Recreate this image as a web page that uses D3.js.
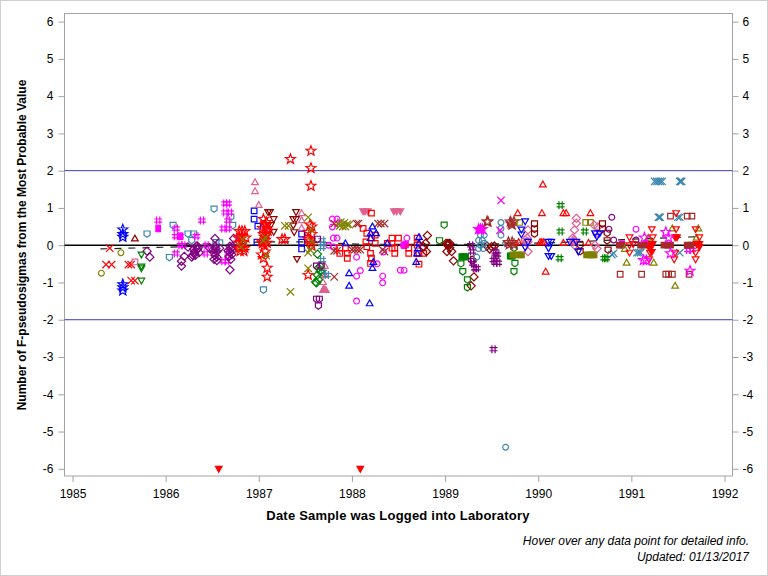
<!DOCTYPE html>
<html><head><meta charset="utf-8"><script src="https://cdn.jsdelivr.net/npm/d3@7"></script>
<style>html,body{margin:0;padding:0;background:#fff}svg{display:block}text{font-family:"Liberation Sans",Arial,sans-serif;fill:#000}</style>
</head><body><svg id="c" width="768" height="576"></svg>
<script>
const xTickValues=[1985,1986,1987,1988,1989,1990,1991,1992];
const yTickValues=[-6,-5,-4,-3,-2,-1,0,1,2,3,4,5,6];
const refLines=[2,-2];
const xTitle="Date Sample was Logged into Laboratory";
const yTitle="Number of F-pseudosigmas from the Most Probable Value";
const notes=["Hover over any data point for detailed info.","Updated: 01/13/2017"];
const trend=[[1985.3,-.1],[1985.9,-.06],[1986.6,-.01],[1987,.09],[1987.5,.09],[1988.05,.03],[1988.7,.02],[1989.3,.02],[1990.2,.07],[1990.9,.15],[1991.5,.21],[1991.73,.23]];

const blueStar=[[1985.54,.42],[1985.54,.3],[1985.54,.22],[1985.54,-1.05],[1985.54,-1.13],[1985.54,-1.22]];
const redX=[[1985.4,-.08],[1985.36,-.52],[1985.42,-.52],[1985.6,-.52],[1985.63,-.52],[1985.63,-.95],[1985.67,-.95]];
const oliveCircle=[[1985.52,-.2],[1985.31,-.75]];
const darkRedTriangle=[[1985.67,.18]];
const pinkSquare=[[1985.67,-.45]];
const greenInvTri=[[1985.74,-.25],[1985.74,-.57],[1985.74,-.62],[1985.74,-.95]];
const steelShield=[[1985.8,.3],[1986.08,.53],[1986.04,-.33],[1986.24,.3],[1986.3,.3],[1986.28,.13],[1986.52,.97],[1986.7,.75],[1986.72,.53],[1986.54,.07],[1986.58,.06],[1987.05,-1.2]];
const magentaHash=[[1985.92,.66],[1986.11,.45],[1986.11,.24],[1986.15,.24],[1986.16,0],[1986.19,0],[1986.11,-.22],[1986.33,.24],[1986.39,.66],[1986.43,-.22],[1986.44,0],[1986.62,.45],[1986.67,.45],[1986.64,1.12],[1986.67,1.12],[1986.64,.88],[1986.69,.88],[1986.67,.66],[1986.62,-.43],[1986.66,-.43],[1986.67,-.22],[1991.61,-.13],[1991.65,-.13]];
const magentaBlob=[[1985.92,.45],[1986.16,.24],[1988.56,0],[1988.58,.02],[1990.9,.03],[1991.16,.03]];
const magentaStarFilled=[[1989.36,.43],[1989.38,.43],[1989.4,.43]];
const purpleDiamond=[[1985.8,-.16],[1985.83,-.32],[1986.17,-.43],[1986.17,-.56],[1986.2,-.3],[1986.24,-.05],[1986.31,-.17],[1986.34,-.12],[1986.29,-.27],[1986.32,-.27],[1986.36,-.2],[1986.3,-.1],[1986.33,-.03],[1986.35,-.07],[1986.31,-.22],[1986.28,-.32],[1986.53,.18],[1986.53,-.03],[1986.55,-.17],[1986.53,-.27],[1986.55,-.41],[1986.52,-.38],[1986.51,-.12],[1986.54,-.09],[1986.52,-.2],[1986.55,-.32],[1986.69,-.03],[1986.72,-.03],[1986.67,-.15],[1986.71,-.25],[1986.7,-.38],[1986.69,-.66],[1986.73,.18],[1986.47,-.07],[1986.58,-.08],[1986.68,-.3],[1986.34,-.02],[1986.7,-.1],[1986.72,-.12],[1986.69,-.2]];
const redStar=[[1986.79,.38],[1986.82,.38],[1986.85,.38],[1986.78,.2],[1986.82,.2],[1986.86,.2],[1986.79,.07],[1986.83,.07],[1986.79,-.07],[1986.82,-.07],[1986.85,-.07],[1986.8,-.16],[1986.84,-.16],[1987.09,-.61],[1987.09,-.85],[1987.05,-.35],[1987.07,-.17],[1987.04,.05],[1987.07,.14],[1987.05,.3],[1987.1,.38],[1987.07,.55],[1987.05,.7],[1987.08,.62],[1987.03,-.25],[1987.06,.22],[1987.09,.45],[1987.03,.1],[1987.06,0],[1987.08,.3],[1987.04,.46],[1987.09,.06],[1987.25,.16],[1987.28,.16],[1987.56,2.53],[1987.56,2.07],[1987.56,1.59],[1987.34,2.31],[1987.53,-.8],[1987.55,.55],[1987.57,.5],[1987.53,.35],[1987.57,.3],[1987.55,.12],[1987.53,.16],[1987.56,.05],[1987.57,-.02]];
const darkRedInvTri=[[1987.12,.89],[1987.1,.89],[1987.16,.7],[1987.1,.54],[1987.16,.36],[1987.13,.54],[1987.4,.89],[1987.37,.7],[1987.4,.7],[1987.37,.53],[1987.38,.35],[1987.41,-.37]];
const oliveX=[[1987.07,.2],[1986.83,.14],[1987.08,-.28],[1987.28,.52],[1987.32,.52],[1987.34,-1.25],[1987.53,.75],[1987.56,.42],[1987.53,-.2],[1987.55,-.12],[1987.53,-.62],[1987.57,.1],[1987.85,.58],[1987.88,.62],[1987.9,.5],[1987.92,.6],[1987.95,.56],[1987.93,.5],[1987.97,.55],[1987.87,.52],[1986.81,-.05],[1987.05,.12]];
const blueSquare=[[1986.95,.92],[1986.95,.7],[1986.99,.51],[1986.98,.08],[1987.46,.3],[1987.46,.08],[1987.46,-.1]];
const pinkTriangle=[[1986.96,1.69],[1986.96,1.45],[1987,1.08],[1987.46,.86],[1987.46,.67],[1987.46,.46],[1987.71,-.56],[1987.71,-.8],[1987.69,-.99]];
const pinkFilledTri=[[1987.69,-1.2],[1987.72,-1.2],[1987.7,-1.17]];
const magentaCircle=[[1987.79,.7],[1987.84,.7],[1987.79,.49],[1987.8,.19],[1987.84,.19],[1987.75,0],[1987.8,-.05],[1988.05,-.32],[1988.09,-.68],[1988.05,-.83],[1988.33,-.83],[1988.33,-1.01],[1988.27,-.5],[1988.05,-1.5],[1988.34,-.18],[1988.52,-.67],[1988.56,-.67],[1988.59,.19],[1991.05,.43],[1988.55,0]];
const brownX=[[1988.05,.58],[1988.07,.58],[1988.28,.58],[1988.31,.58],[1988.35,.58],[1987.81,.58],[1987.81,-.15],[1987.84,-.15],[1988,-.12],[1988.03,-.12],[1988.06,-.12],[1988.09,-.12],[1988.33,-.12],[1988.35,-.17],[1987.81,-.85]];
const pinkInvFilled=[[1988.12,.91],[1988.14,.91],[1988.17,.91],[1988.45,.91],[1988.48,.91],[1988.52,.91]];
const redSquare=[[1988.21,.86],[1988.12,.45],[1988.16,.32],[1988.21,.19],[1988.25,.27],[1988.15,.09],[1988.25,.05],[1988.16,-.04],[1987.87,-.08],[1987.93,-.08],[1987.87,-.22],[1987.95,-.22],[1987.95,-.35],[1988.2,-.22],[1988.21,-.35],[1988.2,-.49],[1988.43,.19],[1988.5,.19],[1988.38,.05],[1988.43,.05],[1988.43,-.08],[1988.46,-.08],[1988.46,-.22],[1988.61,-.08],[1988.61,-.22],[1988.7,.19],[1988.7,0],[1988.72,-.22],[1988.77,-.22],[1988.7,-.22],[1988.72,-.51]];
const blueTriangle=[[1987.93,.05],[1988.22,.5],[1988.2,.32],[1988.26,.32],[1988.2,.19],[1988.23,-.45],[1988.22,-.61],[1987.97,-.75],[1987.97,-1.09],[1988.19,-1.56],[1988.38,.05],[1988.72,.22],[1988.72,.05],[1988.71,-.08],[1988.7,-.22],[1988.69,-.45]];
const steelHash=[[1987.68,.13],[1987.68,.03],[1987.68,-.05],[1987.68,-.4],[1987.69,-.72],[1987.73,-.8]];
const greenDiamond=[[1987.63,-.24],[1987.64,-.61],[1987.63,-.8],[1987.62,-1.01],[1987.61,-.99],[1987.66,-.57],[1987.64,-.92],[1987.66,-.7]];
const purpleShield=[[1987.63,.16],[1987.62,-.56],[1987.67,-.56],[1987.65,-1.45],[1987.62,-1.45],[1987.64,-1.63]];
const darkRedDiamond=[[1988.81,.26],[1988.79,.05],[1988.77,-.04],[1988.8,-.17],[1989.01,.05],[1989.03,.05],[1989.05,.05],[1989.02,.02],[1989.04,.02],[1989.02,-.17],[1989.07,-.17],[1989.05,-.07],[1989.09,-.42],[1989.31,-.85],[1989.28,-1.09],[1989.29,-.4],[1989.45,-.02],[1989.48,-.1],[1989.5,-.04],[1989.53,-.02]];
const greenShield=[[1988.99,.54],[1988.94,.12],[1989.17,-.5],[1989.19,-.71],[1989.24,-.93],[1989.24,-1.14],[1989.74,-.08],[1989.75,-.49],[1989.74,-.71]];
const greenFilled=[[1989.18,-.31],[1989.2,-.31],[1989.22,-.31],[1989.7,-.29],[1989.72,-.29]];
const purpleHash=[[1989.28,0],[1989.29,-.17],[1989.29,-.4],[1989.3,-.49],[1989.32,-.62],[1989.34,-.62],[1989.54,-.17],[1989.54,-.31],[1989.54,-.47],[1989.57,-.47],[1989.52,-2.79],[1989.52,-.4],[1989.56,-.25]];
const steelCircle=[[1989.38,.27],[1989.42,.27],[1989.36,.13],[1989.4,.13],[1989.38,0],[1989.41,-.09],[1989.36,-.09],[1989.34,-.32],[1989.6,.61],[1989.6,.45],[1989.6,.27],[1989.42,.05],[1989.65,-5.42],[1989.65,.05]];
const brownStar=[[1989.45,.63],[1989.46,.63],[1989.7,.63],[1989.74,.63],[1989.72,.55],[1989.68,.08],[1989.72,.08],[1989.74,.02],[1989.71,.58],[1989.69,.02]];
const steelX=[[1991.29,1.71],[1991.33,1.71],[1991.25,1.71],[1991.27,1.71],[1991.31,1.71],[1991.52,1.71],[1991.54,1.71],[1991.53,1.71],[1991.29,.75],[1991.31,.75],[1991.3,.75],[1991.5,.75],[1991.52,.75],[1990.81,-.22],[1990.79,-.25],[1991.06,-.2],[1991.1,-.2],[1991.08,-.2],[1991.52,-.2]];
const redTriangle=[[1990.05,1.63],[1989.78,.86],[1990.04,.86],[1990.27,.86],[1990.3,.86],[1990.56,.86],[1990.08,-.71],[1989.79,.08],[1990.04,.08],[1990.27,.06],[1990.54,.06],[1990.02,.08],[1990.06,.08]];
const greenHash=[[1990.24,1.07],[1990.24,.37],[1990.5,.37],[1990.23,-.35],[1990.71,-.35],[1990.73,-.35]];
const magentaX=[[1989.6,1.2],[1989.59,.4]];
const oliveSquare=[[1989.8,.61],[1990.51,.61],[1990.56,.61]];
const oliveFilled=[[1989.73,-.26],[1989.79,-.26],[1989.82,-.26],[1990.52,-.26],[1990.55,-.26],[1990.58,-.26],[1990.6,-.26]];
const darkRedSquare=[[1989.96,.57],[1989.96,.43],[1989.96,.3],[1990.45,0],[1990.45,-.17],[1990.69,.57],[1990.69,.43],[1990.74,.32],[1990.74,.12],[1990.75,-.13]];
const blueInvTri=[[1989.86,.64],[1989.82,.42],[1989.82,.29],[1989.89,.09],[1989.86,-.06],[1990.11,.09],[1990.14,.09],[1990.11,-.08],[1990.11,-.29],[1990.14,-.29],[1990.34,.09],[1990.41,.09],[1990.43,-.17],[1990.61,.32],[1990.66,.32],[1990.63,.23]];
const pinkDiamond=[[1989.89,.41],[1989.88,.19],[1989.89,-.17],[1989.86,.14],[1989.89,.09],[1990.41,.72],[1990.41,.59],[1990.39,.41],[1990.37,.19],[1990.38,.09],[1990.39,0],[1990.6,.54],[1990.64,.49],[1990.63,.32],[1990.61,0],[1990.63,-.09],[1990.38,.14],[1989.87,.08]];
const purpleCircle=[[1990.79,.75],[1990.76,.43],[1990.81,.14],[1991.05,.14]];
const brownSquare=[[1991.42,.78],[1991.6,.78],[1991.65,.78],[1990.88,-.78],[1991.11,-.78],[1991.37,-.78],[1991.4,-.78],[1991.44,-.78],[1991.62,-.78]];
const brownFilled=[[1990.87,0],[1990.9,0],[1991.1,0],[1991.14,0],[1991.35,0],[1991.39,0],[1991.42,0],[1991.6,0],[1991.64,0]];
const oliveTriangle=[[1991.44,.45],[1991.72,.45],[1991.7,.2],[1991.18,.2],[1990.95,-.47],[1991.24,-.47],[1991.47,-1.09],[1990.93,-.1]];
const redInvTri=[[1991.22,.43],[1991.48,.86],[1991.48,.43],[1991.69,.43],[1990.98,.21],[1991.23,.21],[1991.73,.21],[1990.98,-.2],[1991.2,-.2],[1991.47,-.2],[1991.69,-.2],[1991.19,-.38],[1991.46,-.38],[1991.69,-.38],[1991.02,.03],[1990.98,0]];
const redFilledInv=[[1986.57,-6],[1988.09,-6],[1991.47,.21],[1991.49,.21],[1991.2,.03],[1991.23,.03],[1991.73,.03],[1991.7,.03],[1991.2,-.1],[1991.22,-.18],[1991.73,-.05]];
const magentaStar=[[1991.14,.2],[1991.37,.35],[1991.4,.2],[1991.13,-.4],[1991.42,-.22],[1991.63,-.69],[1991.16,-.41]];

const styles=[
["steelShield",steelShield,"shield","#3d87ae"],["magentaHash",magentaHash,"hash","#ff00ff"],["magentaBlob",magentaBlob,"blob","#ff00ff"],
["purpleDiamond",purpleDiamond,"diamond","#800080"],["oliveCircle",oliveCircle,"circle","#808000"],["blueSquare",blueSquare,"square","#0000ff"],
["pinkTriangle",pinkTriangle,"triangle","#e0608f"],["pinkFilledTri",pinkFilledTri,"triangleF","#e0608f"],["darkRedInvTri",darkRedInvTri,"invTri","#8b0000"],
["redStar",redStar,"star","#ff0000"],["oliveX",oliveX,"x","#808000"],["blueStar",blueStar,"star","#0000ff"],["redX",redX,"x","#ff0000"],
["darkRedTriangle",darkRedTriangle,"triangle","#8b0000"],["pinkSquare",pinkSquare,"square","#e0608f"],["greenInvTri",greenInvTri,"invTri","#008000"],
["magentaCircle",magentaCircle,"circle","#ff00ff"],["brownX",brownX,"x","#a52a2a"],["pinkInvFilled",pinkInvFilled,"invTriF","#e0608f"],
["redSquare",redSquare,"square","#ff0000"],["blueTriangle",blueTriangle,"triangle","#0000ff"],["steelHash",steelHash,"hash","#3d87ae"],
["greenDiamond",greenDiamond,"diamond","#008000"],["purpleShield",purpleShield,"shield","#800080"],["darkRedDiamond",darkRedDiamond,"diamond","#8b0000"],
["greenShield",greenShield,"shield","#008000"],["greenFilled",greenFilled,"squareF","#008000"],["purpleHash",purpleHash,"hash","#800080"],
["steelCircle",steelCircle,"circle","#3d87ae"],["magentaStarFilled",magentaStarFilled,"starF","#ff00ff"],["brownStar",brownStar,"star","#a52a2a"],["steelX",steelX,"x","#3d87ae"],["redTriangle",redTriangle,"triangle","#ff0000"],
["greenHash",greenHash,"hash","#008000"],["magentaX",magentaX,"x","#ff00ff"],["oliveSquare",oliveSquare,"square","#808000"],["oliveFilled",oliveFilled,"squareF","#808000"],
["pinkDiamond",pinkDiamond,"diamond","#e0608f"],["darkRedSquare",darkRedSquare,"shield","#8b0000"],["blueInvTri",blueInvTri,"invTri","#0000ff"],
["purpleCircle",purpleCircle,"circle","#800080"],["brownSquare",brownSquare,"square","#a52a2a"],["brownFilled",brownFilled,"squareF","#a52a2a"],
["oliveTriangle",oliveTriangle,"triangle","#808000"],["redInvTri",redInvTri,"invTri","#ff0000"],["redFilledInv",redFilledInv,"invTriF","#ff0000"],["magentaStar",magentaStar,"star","#ff00ff"]
];

const frame={l:64.5,r:732.5,t:13.5,b:476};
const x=d3.scaleLinear().domain([1985,1992]).range([72.5,724.5]);
const y=d3.scaleLinear().domain([-6,6]).range([468.8,21.6]);
const svg=d3.select("#c");
svg.append("rect").attr("x",.5).attr("y",.5).attr("width",767).attr("height",575).attr("fill","#fff").attr("stroke","#cfcfcf");
svg.append("rect").attr("x",frame.l).attr("y",frame.t).attr("width",frame.r-frame.l).attr("height",frame.b-frame.t).attr("fill","#fff").attr("stroke","#a3a3a3");

function styleAxis(g){g.select(".domain").remove();g.selectAll("line").attr("stroke","#a3a3a3");g.selectAll("text").style("font-size","12px").attr("fill","#000");}
svg.append("g").attr("transform",`translate(0,${frame.b})`).call(d3.axisBottom(x).tickValues(xTickValues).tickFormat(d3.format("d")).tickSize(6).tickPadding(7)).call(styleAxis);
svg.append("g").attr("transform",`translate(${frame.l},0)`).call(d3.axisLeft(y).tickValues(yTickValues).tickFormat(d=>d).tickSize(6).tickPadding(5)).call(styleAxis);
svg.append("g").attr("transform",`translate(${frame.r},0)`).call(d3.axisRight(y).tickValues(yTickValues).tickFormat(d=>d).tickSize(6).tickPadding(4)).call(styleAxis);

const plot=svg.append("g");
refLines.forEach(v=>plot.append("line").attr("x1",frame.l).attr("x2",frame.r).attr("y1",y(v)).attr("y2",y(v)).attr("stroke","#3a3ac8").attr("stroke-width",1));
plot.append("line").attr("x1",frame.l).attr("x2",frame.r).attr("y1",y(0)).attr("y2",y(0)).attr("stroke","#000").attr("stroke-width",1.5);
plot.append("path").datum(trend).attr("fill","none").attr("stroke","#222").attr("stroke-width",1.2).attr("stroke-dasharray","7 7").attr("d",d3.line().x(d=>x(d[0])).y(d=>y(d[1])));

const r=3;
function poly(c,pts){pts.forEach((p,i)=>i?c.lineTo(p[0],p[1]):c.moveTo(p[0],p[1]));c.closePath();}
function starPts(){const R=5.2,q=2.2,p=[];for(let i=0;i<10;i++){const t=-Math.PI/2+i*Math.PI/5,m=i%2?q:R;p.push([m*Math.cos(t),m*Math.sin(t)]);}return p;}
const shapes={
 circle:{draw(c){c.moveTo(2.9,0);c.arc(0,0,2.9,0,2*Math.PI);}},
 square:{draw(c){c.rect(-2.8,-2.8,5.6,5.6);}},
 squareF:{draw(c){c.rect(-2.8,-2.8,5.6,5.6);}},
 blob:{draw(c){c.rect(-2.3,-3.2,4.6,6.4);}},
 diamond:{draw(c){const a=4.1;poly(c,[[0,-a],[a,0],[0,a],[-a,0]]);}},
 triangle:{draw(c){poly(c,[[0,-r-.4],[r+.3,r*.8],[-r-.3,r*.8]]);}},
 triangleF:{draw(c){poly(c,[[0,-r-.4],[r+.3,r*.8],[-r-.3,r*.8]]);}},
 invTri:{draw(c){poly(c,[[0,r+.4],[r+.3,-r*.8],[-r-.3,-r*.8]]);}},
 invTriF:{draw(c){poly(c,[[0,r+.4],[r+.3,-r*.8],[-r-.3,-r*.8]]);}},
 shield:{draw(c){poly(c,[[-r,-r],[r,-r],[r,r*.4],[0,r*1.1],[-r,r*.4]]);}},
 x:{draw(c){const a=3.7;c.moveTo(-a,-a);c.lineTo(a,a);c.moveTo(-a,a);c.lineTo(a,-a);}},
 hash:{draw(c){const a=4,b=1.6;c.moveTo(-b,-a);c.lineTo(-b,a);c.moveTo(b,-a);c.lineTo(b,a);c.moveTo(-a,-b);c.lineTo(a,-b);c.moveTo(-a,b);c.lineTo(a,b);}},
 star:{draw(c){poly(c,starPts());}},
 starF:{draw(c){poly(c,starPts());}}
};
const filled=new Set(["squareF","triangleF","invTriF","blob","starF"]);
styles.forEach(([name,rows,shape,color])=>{
 plot.append("g").attr("class",name).selectAll("path").data(rows).join("path")
  .attr("transform",d=>`translate(${x(d[0])},${y(d[1])})`)
  .attr("d",d3.symbol().type(shapes[shape]))
  .attr("fill",filled.has(shape)?color:"none").attr("stroke",color).attr("stroke-width",1.2);
});

svg.append("text").attr("x",398).attr("y",520).attr("text-anchor","middle").style("font-size","13px").style("font-weight","bold").style("letter-spacing","0.2px").text(xTitle);
svg.append("text").attr("transform","translate(25.5,245) rotate(-90)").attr("text-anchor","middle").style("font-size","12px").style("font-weight","bold").text(yTitle);
notes.forEach((t,i)=>svg.append("text").attr("x",749).attr("y",545+i*16).attr("text-anchor","end").style("font-size","12px").style("font-style","italic").text(t));
</script></body></html>
